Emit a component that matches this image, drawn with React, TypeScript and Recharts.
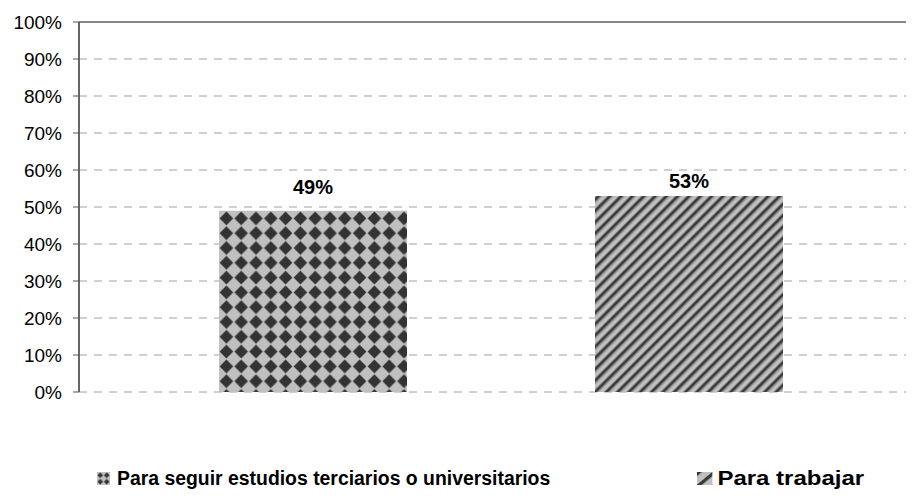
import { BarChart, Bar, XAxis, YAxis, CartesianGrid, Legend, LabelList, ReferenceLine } from 'recharts';

const categories = [''];
const seriesNames = ['Para seguir estudios terciarios o universitarios', 'Para trabajar'];
const estudiosValues = [49];
const trabajarValues = [53];
const yTicks = [0, 10, 20, 30, 40, 50, 60, 70, 80, 90, 100];

const data = categories.map((c, i) => ({
  name: c,
  estudios: estudiosValues[i],
  trabajar: trabajarValues[i],
}));

const font = '"Liberation Sans", Arial, sans-serif';

function Patterns() {
  return (
    <defs>
      <pattern id="diamonds" width="14.8" height="14.8" patternUnits="userSpaceOnUse" x="219" y="211">
        <rect width="14.8" height="14.8" fill="#c0c0c0" />
        <polygon points="7.4,0.6 14.2,7.4 7.4,14.2 0.6,7.4" fill="#333333" />
      </pattern>
      <pattern id="stripes" width="8" height="8" patternUnits="userSpaceOnUse" patternTransform="rotate(45)">
        <rect width="8" height="8" fill="#c0c0c0" />
        <rect x="0" width="1" height="8" fill="#777" />
        <rect x="1" width="2.4" height="8" fill="#383838" />
        <rect x="3.4" width="1" height="8" fill="#777" />
      </pattern>
    </defs>
  );
}

function LegendBox() {
  return (
    <div style={{ position: 'relative', height: 26, fontFamily: font, fontWeight: 'bold', color: '#000' }}>
      <div style={{ position: 'absolute', left: 97, top: 0, display: 'flex', alignItems: 'center', whiteSpace: 'nowrap', fontSize: 19.4 }}>
        <svg width={13} height={13} style={{ marginRight: 7 }}>
          <defs>
            <pattern id="diamondsSwatch" width="6.5" height="6.5" patternUnits="userSpaceOnUse">
              <rect width="6.5" height="6.5" fill="#c0c0c0" />
              <polygon points="3.25,0.4 6.1,3.25 3.25,6.1 0.4,3.25" fill="#333333" />
            </pattern>
          </defs>
          <rect width={13} height={13} fill="url(#diamondsSwatch)" />
        </svg>
        <span>{seriesNames[0]}</span>
      </div>
      <div style={{ position: 'absolute', left: 697, top: 0, display: 'flex', alignItems: 'center', whiteSpace: 'nowrap', fontSize: 20, transform: 'scaleX(1.2)', transformOrigin: 'left center' }}>
        <svg width={13} height={13} style={{ marginRight: 4 }}>
          <defs>
            <pattern id="stripesSwatch" width="9" height="9" patternUnits="userSpaceOnUse" patternTransform="rotate(45)">
              <rect width="9" height="9" fill="#c0c0c0" />
              <rect x="0" width="3" height="9" fill="#383838" />
            </pattern>
          </defs>
          <rect width={13} height={13} fill="url(#stripesSwatch)" />
        </svg>
        <span>{seriesNames[1]}</span>
      </div>
    </div>
  );
}

export default function App() {
  return (
    <div style={{ marginLeft: -8, marginTop: -8, width: 932, height: 500, background: '#fff' }}>
      <BarChart width={932} height={500} data={data} margin={{ top: 22, right: 9, bottom: 82, left: 0 }} barSize={188} barGap={188}>
        <Patterns />
        <CartesianGrid vertical={false} stroke="#a0a0a0" strokeDasharray="8 7" />
        <XAxis dataKey="name" tick={false} tickLine={false} axisLine={{ stroke: '#3a3a3a', strokeWidth: 2 }} height={0} />
        <YAxis
          domain={[0, 100]}
          ticks={yTicks}
          interval={0}
          width={79}
          tickSize={6}
          tickMargin={11}
          tickFormatter={(v) => `${v}%`}
          axisLine={{ stroke: '#666', strokeWidth: 2 }}
          tickLine={{ stroke: '#555' }}
          tick={{ fill: '#000', fontSize: 19, fontFamily: font }}
        />
        <ReferenceLine y={100} stroke="#888" strokeWidth={2} />
        <Legend content={<LegendBox />} wrapperStyle={{ left: 0, top: 467, width: 932 }} />
        <Bar dataKey="estudios" name={seriesNames[0]} fill="url(#diamonds)" isAnimationActive={false}>
          <LabelList dataKey="estudios" position="top" offset={17} formatter={(v: any) => `${v}%`} style={{ fontFamily: font, fontWeight: 'bold', fontSize: 20, fill: '#000' }} />
        </Bar>
        <Bar dataKey="trabajar" name={seriesNames[1]} fill="url(#stripes)" isAnimationActive={false}>
          <LabelList dataKey="trabajar" position="top" offset={8} formatter={(v: any) => `${v}%`} style={{ fontFamily: font, fontWeight: 'bold', fontSize: 20, fill: '#000' }} />
        </Bar>
      </BarChart>
    </div>
  );
}
